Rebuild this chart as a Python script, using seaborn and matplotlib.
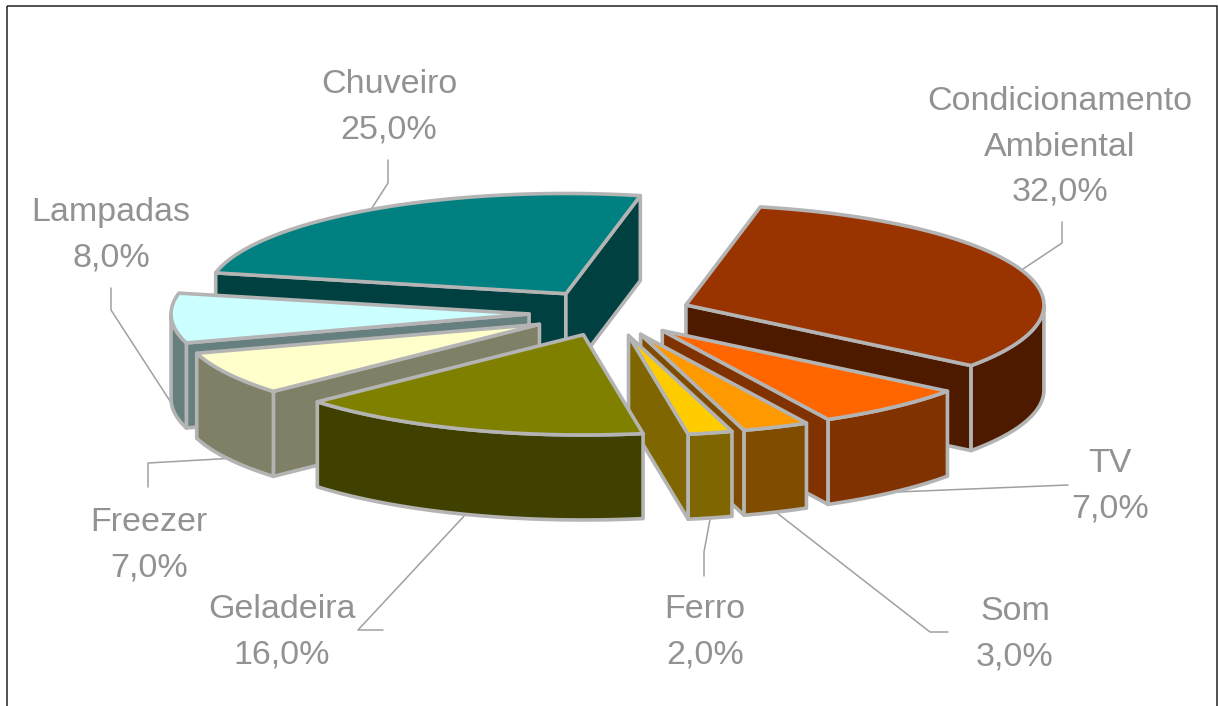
import numpy as np
import matplotlib
matplotlib.use("Agg")
import matplotlib.pyplot as plt
from matplotlib.patches import Polygon, Rectangle
import seaborn as sns

# Household electricity use by appliance
categories = ["Condicionamento\nAmbiental", "TV", "Som", "Ferro", "Geladeira",
              "Freezer", "Lampadas", "Chuveiro"]
shares = [32.0, 7.0, 3.0, 2.0, 16.0, 7.0, 8.0, 25.0]
top_colors = ["#993300", "#FF6600", "#FF9900", "#FFCC00", "#808000",
              "#FFFFCC", "#CCFFFF", "#008080"]

# Pie geometry, in pixels of the canvas
CX, CY = 610, 313
RADIUS, SQUASH = 358, 0.28
DEPTH = 85
EXPLODE_X, EXPLODE_Y = 81, 23
START_DEG = 12
EDGE = "#B4B4B4"
TEXT = "#929292"

# Slices are painted back to front, Geladeira overlapping the ones beside it
paint_order = [7, 0, 6, 5, 1, 2, 3, 4]

# Label centres and leader elbows
label_pos = [(1060, 147), (1110, 486), (1015, 634), (705, 632), (282, 632),
             (149, 545), (111, 235), (389, 107)]
elbows = [[(1062, 222), (1062, 243)], [(1068, 485)], [(948, 632), (930, 632)],
          [(704, 576), (704, 552)], [(383, 630), (358, 630)],
          [(148, 487), (148, 463)], [(111, 288), (111, 310)],
          [(388, 160), (388, 183)]]

sns.set_theme(style="white")
plt.rcParams["font.family"] = ["Liberation Sans", "DejaVu Sans"]

fig = plt.figure(figsize=(12.19, 7.06), dpi=100)
ax = fig.add_axes([0, 0, 1, 1])
ax.set_xlim(0, 1219)
ax.set_ylim(706, 0)
ax.axis("off")
ax.add_patch(Rectangle((6.7, 5.7), 1210.5, 720, fill=False, ec="#2A2A2A", lw=1.15))


def rim(cx, cy, deg):
    """Project angles (clockwise from north) onto the flattened disc."""
    rad = np.radians(deg)
    return np.column_stack([cx + RADIUS * np.sin(rad),
                            cy - RADIUS * SQUASH * np.cos(rad)])


def darker(hex_color):
    return tuple(c * 0.5 for c in matplotlib.colors.to_rgb(hex_color))


def face(points, color, z):
    ax.add_patch(Polygon(points, closed=True, fc=color, ec=EDGE, lw=2.6,
                         joinstyle="round", zorder=z))


sweep = np.array(shares) / sum(shares) * 360
starts = START_DEG + np.concatenate([[0], np.cumsum(sweep)[:-1]])
ends = starts + sweep
mids = (starts + ends) / 2

for z, i in enumerate(paint_order):
    a0, a1, mid = starts[i], ends[i], mids[i]
    m = np.radians(mid)
    cx = CX + EXPLODE_X * np.sin(m)
    cy = CY - EXPLODE_Y * np.cos(m)
    side = darker(top_colors[i])
    arc_deg = np.linspace(a0, a1, 90)
    arc = rim(cx, cy, arc_deg)
    drop = np.array([0, DEPTH])
    apex = np.array([cx, cy])
    zorder = 2 + z

    # Radial walls that face the viewer
    if np.sin(np.radians(a0)) < 0:
        face([apex, arc[0], arc[0] + drop, apex + drop], side, zorder)
    if np.sin(np.radians(a1)) > 0:
        face([apex, arc[-1], arc[-1] + drop, apex + drop], side, zorder)

    # Outer curved wall on the near half of the disc
    lo = max(a0, 90)
    hi = min(a1, 270)
    if hi > lo:
        front = rim(cx, cy, np.linspace(lo, hi, 60))
        face(np.vstack([front, (front + drop)[::-1]]), side, zorder)

    face(np.vstack([apex, arc]), top_colors[i], zorder + 0.5)

    # Leader from the rim of the slice to its label
    anchor = rim(cx, cy, np.array([mid]))[0]
    if np.cos(m) < 0:
        anchor = anchor + drop
    path = np.array(elbows[i] + [tuple(anchor)])
    sns.lineplot(x=path[:, 0], y=path[:, 1], sort=False, estimator=None, ax=ax,
                 color="#A0A0A0", lw=1.1, zorder=1, legend=False)

    value = f"{shares[i]:.1f}".replace(".", ",") + "%"
    ax.text(*label_pos[i], f"{categories[i]}\n{value}", ha="center", va="center",
            color=TEXT, fontsize=24.5, linespacing=1.6, zorder=40)

ax.set_xlim(0, 1219)
ax.set_ylim(706, 0)
fig.savefig("out.png", dpi=100, facecolor="white")
